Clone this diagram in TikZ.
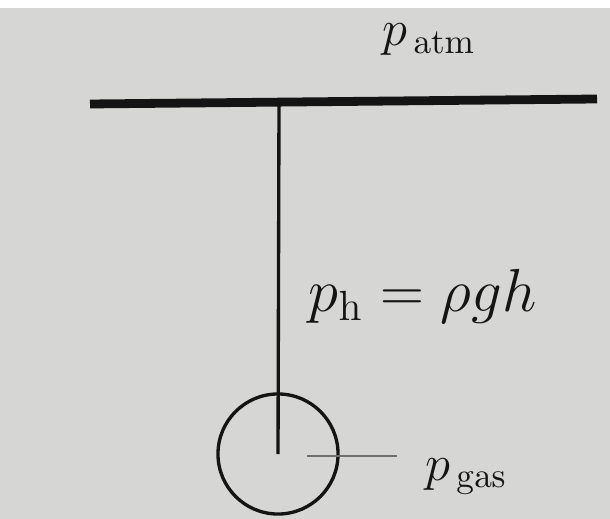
\documentclass[tikz,border=0pt]{standalone}
\usetikzlibrary{positioning,calc}
\definecolor{PAPER}{RGB}{214, 214, 212}
\definecolor{INK}{RGB}{20, 20, 20}
\definecolor{LEADER}{RGB}{110, 110, 110}

\begin{document}
\begin{tikzpicture}[x=0.01cm, y=-0.01cm,
    lbl/.style={inner sep=0pt, anchor=base west, text=INK}]
  % paper
  \useasboundingbox (0,0) rectangle (610,519);
  \fill[PAPER] (0,8) rectangle (610,519);

  % surface (top bar)
  \coordinate (barL) at (90,104);
  \coordinate (barR) at (597,99);
  \draw[INK, line width=2.5pt] (barL) -- (barR);
  \node[lbl, font=\fontsize{13.7}{16}\selectfont] (patm) at (382,46) {$p_{\,\mathrm{atm}}$};

  % bubble and depth
  \coordinate (top) at (279,102);
  \node[draw=INK, circle, line width=0.95pt, minimum size=1.2cm, inner sep=0pt] (bubble) at (278,454) {};
  \draw[INK, line width=0.95pt] (top) -- (bubble.center);
  \node[lbl, font=\fontsize{17.3}{20}\selectfont] (ph) at (308,311) {$p_{\mathrm{h}} = \rho g h$};

  % gas label with leader
  \node[lbl, font=\fontsize{14.6}{17}\selectfont] (pgas) at (425,480) {$p_{\,\mathrm{gas}}$};
  \coordinate (lead1) at (307,456);
  \coordinate (lead2) at (397,456);
  \draw[LEADER, line width=0.45pt] (lead1) -- (lead2);
\end{tikzpicture}
\end{document}
